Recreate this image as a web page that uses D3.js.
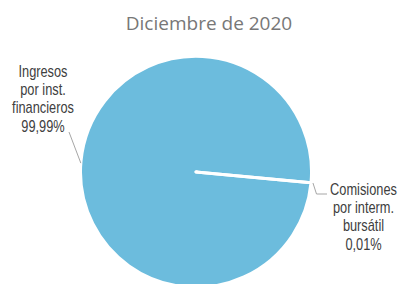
<!DOCTYPE html>
<html><head><meta charset="utf-8">
<script src="https://cdn.jsdelivr.net/npm/d3@7"></script>
<style>
body{margin:0;background:#fff;}
svg{display:block;}
</style></head><body>
<svg id="c" width="399" height="284"></svg>
<script>
const title = "Diciembre de 2020";
const categories = ["Ingresos por inst. financieros", "Comisiones por interm. bursátil"];
const labelLines = [["Ingresos","por inst.","financieros"],["Comisiones","por interm.","bursátil"]];
const values = [99.99, 0.01];
const valueLabels = ["99,99%", "0,01%"];

const svg = d3.select("#c");
const W = 399, H = 284;
svg.append("rect").attr("width",W).attr("height",H).attr("fill","#fff");

svg.append("text").attr("x",209).attr("y",30).attr("text-anchor","middle")
  .attr("font-family","'Open Sans', sans-serif").attr("font-size",19)
  .attr("fill","#777777").text(title);

const cx = 196, cy = 172, r = 115.5;
const startDeg = 95.4;
const pie = d3.pie().sort(null).startAngle(startDeg*Math.PI/180).endAngle(startDeg*Math.PI/180 + 2*Math.PI);
const arcs = pie(values);
const arc = d3.arc().innerRadius(0).outerRadius(r);
const g = svg.append("g").attr("transform",`translate(${cx},${cy})`);
g.selectAll("path").data(arcs).enter().append("path")
  .attr("d",arc).attr("fill","#6cbcdd").attr("stroke","#fff").attr("stroke-width",3).attr("stroke-linejoin","round");

const font = "'Liberation Sans', Arial, sans-serif";
const pt = (a, rr) => [cx + rr*Math.sin(a), cy - rr*Math.cos(a)];
const mid0 = (arcs[0].startAngle + arcs[0].endAngle)/2;
const p0 = pt(mid0 - 0.017, r);
svg.append("path").attr("d", d3.line()([p0, [69,132]]))
  .attr("fill","none").attr("stroke","#a6a6a6").attr("stroke-width",1);
const mid1 = (arcs[1].startAngle + arcs[1].endAngle)/2;
const p1 = pt(mid1, r+2);
svg.append("path").attr("d", d3.line()([p1, [316.5,194], [327,194]]))
  .attr("fill","none").attr("stroke","#a6a6a6").attr("stroke-width",1);

const labelPos = [[43,76.5],[363.5,194.5]];
const sx = 0.8;
labelLines.forEach((lines,i)=>{
  const grp = svg.append("g").attr("transform",`translate(${labelPos[i][0]},${labelPos[i][1]}) scale(${sx},1)`);
  const t = grp.append("text").attr("x",0).attr("y",0)
    .attr("text-anchor","middle").attr("font-family",font).attr("font-size",16).attr("fill","#404040");
  lines.concat([valueLabels[i]]).forEach((l,j)=>{
    t.append("tspan").attr("x",0).attr("dy", j===0?0:18.5).text(l);
  });
});
</script></body></html>
